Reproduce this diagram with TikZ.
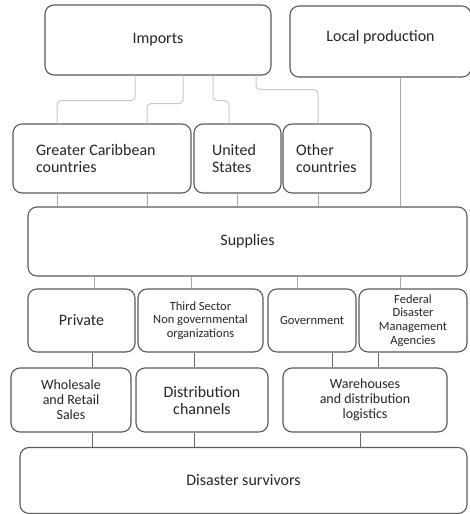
\documentclass[tikz,border=0pt]{standalone}
\usepackage{fontspec}
\setmainfont{Carlito}
\usetikzlibrary{calc}

\definecolor{boxline}{HTML}{5A5A5A}
\definecolor{linkA}{HTML}{C8C8C8}
\definecolor{linkB}{HTML}{A8A8A8}
\definecolor{linkC}{HTML}{6A6A6A}

\tikzset{
  box/.style={draw=boxline, line width=1.1pt, rounded corners=9pt, fill=white,
              inner sep=2pt, align=center, text=black!85},
  big/.style={font=\fontsize{16}{17}\selectfont},
  mid/.style={font=\fontsize{14}{15}\selectfont},
  small/.style={font=\fontsize{12.5}{13.6}\selectfont},
  impline/.style={draw=linkA, line width=1pt, rounded corners=4pt},
  supline/.style={draw=linkB, line width=1pt},
  lowline/.style={draw=linkC, line width=1pt},
}

\begin{document}
\begin{tikzpicture}[x=1pt, y=-1pt]
\useasboundingbox (0,0) rectangle (469,514);

% top row
\node[box, big, minimum width=226pt, minimum height=70pt] (imports) at (158,40) {Imports};
\node[box, big, minimum width=181pt, minimum height=71pt, text depth=12pt] (local) at (380.5,41.5) {Local production};

% countries of origin
\node[box, big, align=flush left, text width=132pt, inner xsep=23pt, minimum height=69pt] (gcc) at (102,158.5) {Greater Caribbean\\countries};
\node[box, big, align=flush left, text width=51pt, inner xsep=18pt, minimum height=69pt] (us) at (237.5,158.5) {United\\States};
\node[box, big, align=flush left, text width=62pt, inner xsep=13pt, minimum height=69pt] (other) at (327,158.5) {Other\\countries};

% supplies
\node[box, big, minimum width=439pt, minimum height=69pt] (supplies) at (247.5,241.5) {Supplies};

% actors
\node[box, big, minimum width=107pt, minimum height=63pt] (private) at (81.5,320.5) {Private};
\node[box, small, minimum width=125pt, minimum height=63pt] (third) at (200.5,320.5) {Third Sector\\Non governmental\\organizations};
\node[box, small, minimum width=88pt, minimum height=63pt] (gov) at (312,320.5) {Government};
\node[box, small, minimum width=108pt, minimum height=63pt] (fed) at (413,320.5) {Federal\\Disaster\\Management\\Agencies};

% channels
\node[box, mid, minimum width=120pt, minimum height=64pt] (whole) at (71,400) {Wholesale\\and Retail\\Sales};
\node[box, big, minimum width=132pt, minimum height=64pt] (dist) at (202,400) {Distribution\\channels};
\node[box, mid, minimum width=164pt, minimum height=64pt] (ware) at (365,400) {Warehouses\\and distribution\\logistics};

% survivors
\node[box, big, minimum width=447pt, minimum height=66pt] (surv) at (243.5,480.5) {Disaster survivors};

% imports to origin countries
\draw[impline] ($(imports.south)+(-23,0)$) -- ++(0,25) -| ($(gcc.north)+(-45,0)$);
\draw[impline] ($(imports.south)+(25,0)$) -- ++(0,28) -| ($(gcc.north)+(45,0)$);
\draw[impline] ($(imports.south)+(55,0)$) -- ++(0,25) -| ($(us.north)+(-8.5,0)$);
\draw[impline] ($(imports.south)+(98,0)$) -- ++(0,14) -| ($(other.north)+(-9,0)$);

% origins to supplies
\coordinate (g1) at ($(gcc.south)+(-45,0)$);
\coordinate (g2) at ($(gcc.south)+(45,0)$);
\coordinate (u1) at (us.south);
\coordinate (o1) at ($(other.south)+(-9,0)$);
\coordinate (l1) at ($(local.south)+(19.5,0)$);
\draw[supline] (g1) -- (g1 |- supplies.north);
\draw[supline] (g2) -- (g2 |- supplies.north);
\draw[supline] (u1) -- (u1 |- supplies.north);
\draw[supline] (o1) -- (o1 |- supplies.north);
\draw[supline] (l1) -- (l1 |- supplies.north);

% supplies to actors
\coordinate (s1) at ($(private.north)+(12.5,0)$);
\coordinate (s2) at ($(third.north)+(-9.5,0)$);
\coordinate (s3) at ($(gov.north)+(-15,0)$);
\coordinate (s4) at ($(fed.north)+(-13,0)$);
\draw[supline] (s1 |- supplies.south) -- (s1);
\draw[supline] (s2 |- supplies.south) -- (s2);
\draw[supline] (s3 |- supplies.south) -- (s3);
\draw[supline] (s4 |- supplies.south) -- (s4);

% actors to channels
\coordinate (a1) at ($(private.south)+(10.5,0)$);
\coordinate (a2) at ($(third.south)+(-6.5,0)$);
\coordinate (a3) at ($(gov.south)+(20,0)$);
\coordinate (a4) at ($(fed.south)+(-35,0)$);
\draw[lowline] (a1) -- (a1 |- whole.north);
\draw[lowline] (a2) -- (a2 |- dist.north);
\draw[lowline] (a3) -- (a3 |- ware.north);
\draw[lowline] (a4) -- (a4 |- ware.north);

% channels to survivors
\coordinate (c1) at ($(whole.south)+(21,0)$);
\coordinate (c2) at ($(dist.south)+(-8,0)$);
\coordinate (c3) at ($(ware.south)+(-5,0)$);
\draw[lowline] (c1) -- (c1 |- surv.north);
\draw[lowline] (c2) -- (c2 |- surv.north);
\draw[lowline] (c3) -- (c3 |- surv.north);
\end{tikzpicture}
\end{document}
